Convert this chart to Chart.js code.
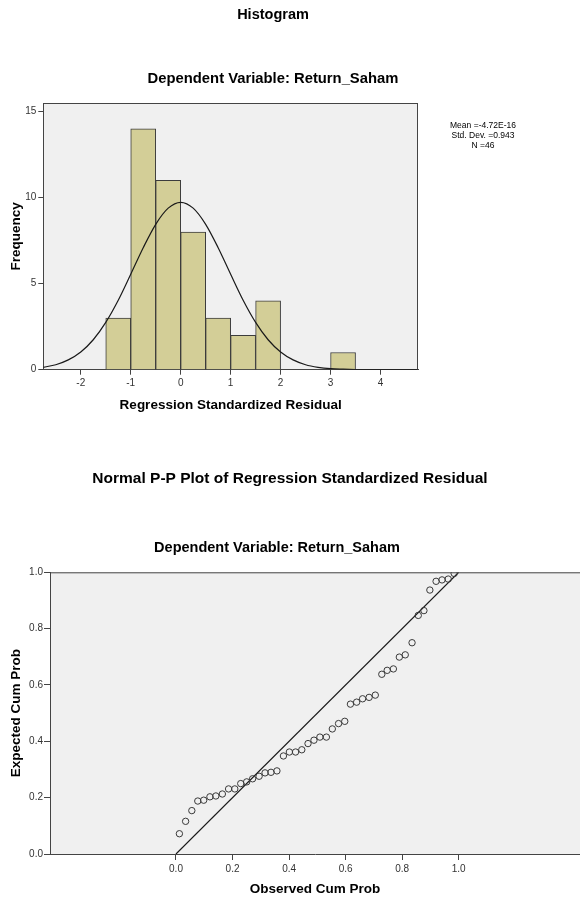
<!DOCTYPE html>
<html>
<head>
<meta charset="utf-8">
<title>Histogram / Normal P-P Plot</title>
<script src="https://cdn.jsdelivr.net/npm/chart.js@4.4.1/dist/chart.umd.min.js"></script>
<style>
  html, body { margin: 0; padding: 0; background: #fff; overflow: hidden; }
  #histBox { position: absolute; left: 0; top: 0; width: 546px; height: 430px; }
  #ppBox { position: absolute; left: 0; top: 440px; width: 580px; height: 462px; }
</style>
</head>
<body>
<div id="histBox"><canvas id="histChart"></canvas></div>
<div id="ppBox"><canvas id="ppChart"></canvas></div>
<script>
// --- histogram data ---
const binCenters = [-1.25, -0.75, -0.25, 0.25, 0.75, 1.25, 1.75, 2.25, 2.75, 3.25];
const frequencies = [3, 14, 11, 8, 3, 2, 4, 0, 0, 1];
// normal curve
const curveX = [-2.75, -2.5, -2.25, -2, -1.75, -1.5, -1.25, -1, -0.75, -0.5, -0.25, 0, 0.25, 0.5, 0.75, 1,
                1.25, 1.5, 1.75, 2, 2.25, 2.5, 2.75, 3, 3.25, 3.5, 3.75, 4, 4.25, 4.5, 4.75];
const curveY = [0.14, 0.29, 0.57, 1.03, 1.74, 2.75, 4.04, 5.55, 7.09, 8.45, 9.39, 9.73, 9.39, 8.45, 7.09, 5.55,
                4.04, 2.75, 1.74, 1.03, 0.57, 0.29, 0.14, 0.06, 0.03, 0.01, 0, 0, 0, 0, 0];
const histXTicks = [-2, -1, 0, 1, 2, 3, 4];
const histYTicks = [0, 5, 10, 15];
const statsLines = ["Mean =-4.72E-16", "Std. Dev. =0.943", "N =46"];

// --- P-P plot data ---
const observedCum = [0.012, 0.034, 0.056, 0.077, 0.098, 0.120, 0.141, 0.164, 0.186, 0.208, 0.229, 0.250,
                     0.271, 0.294, 0.315, 0.336, 0.357, 0.380, 0.401, 0.423, 0.445, 0.467, 0.488, 0.509,
                     0.532, 0.553, 0.575, 0.597, 0.617, 0.639, 0.660, 0.683, 0.705, 0.728, 0.747, 0.769,
                     0.790, 0.811, 0.835, 0.857, 0.877, 0.898, 0.920, 0.941, 0.963, 0.984];
const expectedCum = [0.072, 0.116, 0.154, 0.188, 0.191, 0.203, 0.206, 0.213, 0.231, 0.231, 0.250, 0.256,
                     0.267, 0.276, 0.288, 0.290, 0.295, 0.348, 0.362, 0.362, 0.370, 0.392, 0.404, 0.415,
                     0.415, 0.444, 0.463, 0.471, 0.532, 0.539, 0.551, 0.556, 0.564, 0.638, 0.652, 0.657,
                     0.699, 0.707, 0.750, 0.847, 0.864, 0.937, 0.968, 0.973, 0.976, 0.996];
const diagX = [0, 1];
const diagY = [0, 1];
const ppTicks = [0, 0.2, 0.4, 0.6, 0.8, 1.0];

const FONT = "'Liberation Sans', Arial, sans-serif";
const AXIS = '#444';

// grey plot background, frame lines and free texts (titles, stats box)
const framePlugin = {
  id: 'frame',
  beforeDraw(chart, args, opts) {
    const { ctx, chartArea: a } = chart;
    ctx.save();
    ctx.fillStyle = '#f0f0f0';
    ctx.fillRect(a.left, a.top, a.right - a.left, a.bottom - a.top);
    ctx.restore();
  },
  afterDraw(chart, args, opts) {
    const { ctx, chartArea: a } = chart;
    ctx.save();
    ctx.strokeStyle = AXIS;
    ctx.lineWidth = 1;
    ctx.beginPath();
    ctx.moveTo(a.left, a.top + 0.5);
    ctx.lineTo(a.right, a.top + 0.5);
    if (opts.right) {
      ctx.moveTo(a.right - 0.5, a.top);
      ctx.lineTo(a.right - 0.5, a.bottom);
    }
    ctx.stroke();
    ctx.textAlign = 'center';
    ctx.textBaseline = 'middle';
    (opts.texts || []).forEach(t => {
      ctx.font = t.font;
      ctx.fillStyle = '#000';
      ctx.fillText(t.text, t.x, t.y);
    });
    ctx.restore();
  }
};

// fixed axis sizes, no extra label padding
const fixHeight = h => s => { s.height = h; s.paddingLeft = 0; s.paddingRight = 0; };
const fixWidth = w => s => { s.width = w; s.paddingTop = 0; s.paddingBottom = 0; };

const tickFont = { family: FONT, size: 10 };
const titleFont = { family: FONT, size: 13.5, weight: 'bold' };

new Chart('histChart', {
  type: 'bar',
  data: {
    datasets: [{
      type: 'line',
      order: 0,
      data: curveX.map((x, i) => ({ x: x, y: curveY[i] })),
      borderColor: '#1a1a1a',
      borderWidth: 1.2,
      pointRadius: 0,
      cubicInterpolationMode: 'monotone',
      fill: false
    }, {
      order: 1,
      data: binCenters.map((x, i) => ({ x: x, y: frequencies[i] })),
      backgroundColor: '#d3ce97',
      borderColor: '#3c3c3c',
      borderWidth: 1,
      barPercentage: 1,
      categoryPercentage: 1
    }]
  },
  options: {
    responsive: true,
    maintainAspectRatio: false,
    animation: false,
    layout: { autoPadding: false, padding: { top: 103, right: 128, bottom: 0, left: 0 } },
    plugins: {
      legend: { display: false },
      tooltip: { enabled: false },
      frame: {
        right: true,
        texts: [
          { text: 'Histogram', x: 273, y: 15, font: `bold 14.5px ${FONT}` },
          { text: 'Dependent Variable: Return_Saham', x: 273, y: 79, font: `bold 14.8px ${FONT}` },
          { text: statsLines[0], x: 483, y: 126, font: `8.5px ${FONT}` },
          { text: statsLines[1], x: 483, y: 136, font: `8.5px ${FONT}` },
          { text: statsLines[2], x: 483, y: 146, font: `8.5px ${FONT}` }
        ]
      }
    },
    scales: {
      x: {
        type: 'linear',
        offset: false,
        min: -2.75,
        max: 4.75,
        afterBuildTicks: s => { s.ticks = histXTicks.map(v => ({ value: v })); },
        afterFit: fixHeight(60.3),
        grid: { offset: false, drawOnChartArea: false, tickLength: 5, color: AXIS },
        border: { color: AXIS },
        ticks: { color: '#333', font: tickFont, padding: 3, maxRotation: 0, callback: v => String(v) },
        title: { display: true, text: 'Regression Standardized Residual', color: '#000', font: titleFont,
                 padding: { top: 0, bottom: 16.9 } }
      },
      y: {
        min: 0,
        max: 15.5,
        afterBuildTicks: s => { s.ticks = histYTicks.map(v => ({ value: v })); },
        afterFit: fixWidth(43.3),
        grid: { drawOnChartArea: false, tickLength: 5, color: AXIS },
        border: { color: AXIS },
        ticks: { color: '#333', font: tickFont, padding: 2, callback: v => String(v) },
        title: { display: true, text: 'Frequency', color: '#000', font: titleFont,
                 padding: { top: 7.9, bottom: 0 } }
      }
    }
  },
  plugins: [framePlugin]
});

new Chart('ppChart', {
  type: 'scatter',
  data: {
    datasets: [{
      data: observedCum.map((x, i) => ({ x: x, y: expectedCum[i] })),
      pointRadius: 3.2,
      pointBorderWidth: 1,
      pointBorderColor: '#3a3a3a',
      pointBackgroundColor: 'rgba(0,0,0,0)'
    }, {
      data: diagX.map((x, i) => ({ x: x, y: diagY[i] })),
      showLine: true,
      borderColor: '#1a1a1a',
      borderWidth: 1.2,
      pointRadius: 0
    }]
  },
  options: {
    responsive: true,
    maintainAspectRatio: false,
    animation: false,
    layout: { autoPadding: false, padding: { top: 132.3, right: 0, bottom: 0, left: 0 } },
    plugins: {
      legend: { display: false },
      tooltip: { enabled: false },
      frame: {
        right: false,
        texts: [
          { text: 'Normal P-P Plot of Regression Standardized Residual', x: 290, y: 39, font: `bold 15.5px ${FONT}` },
          { text: 'Dependent Variable: Return_Saham', x: 277, y: 108, font: `bold 14.5px ${FONT}` }
        ]
      }
    },
    scales: {
      x: {
        type: 'linear',
        min: -0.4457,
        max: 1.4291,
        afterBuildTicks: s => { s.ticks = ppTicks.map(v => ({ value: v })); },
        afterFit: fixHeight(48),
        grid: { drawOnChartArea: false, tickLength: 6, color: AXIS },
        border: { color: AXIS },
        ticks: { color: '#333', font: tickFont, padding: 3, maxRotation: 0, callback: v => v.toFixed(1) },
        title: { display: true, text: 'Observed Cum Prob', color: '#000', font: titleFont,
                 padding: { top: 0, bottom: 4.9 } }
      },
      y: {
        min: 0,
        max: 1,
        afterBuildTicks: s => { s.ticks = ppTicks.map(v => ({ value: v })); },
        afterFit: fixWidth(50),
        grid: { drawOnChartArea: false, tickLength: 6, color: AXIS },
        border: { color: AXIS },
        ticks: { color: '#333', font: tickFont, padding: 1, callback: v => v.toFixed(1) },
        title: { display: true, text: 'Expected Cum Prob', color: '#000', font: titleFont,
                 padding: { top: 7.9, bottom: 0 } }
      }
    }
  },
  plugins: [framePlugin]
});
</script>
</body>
</html>
